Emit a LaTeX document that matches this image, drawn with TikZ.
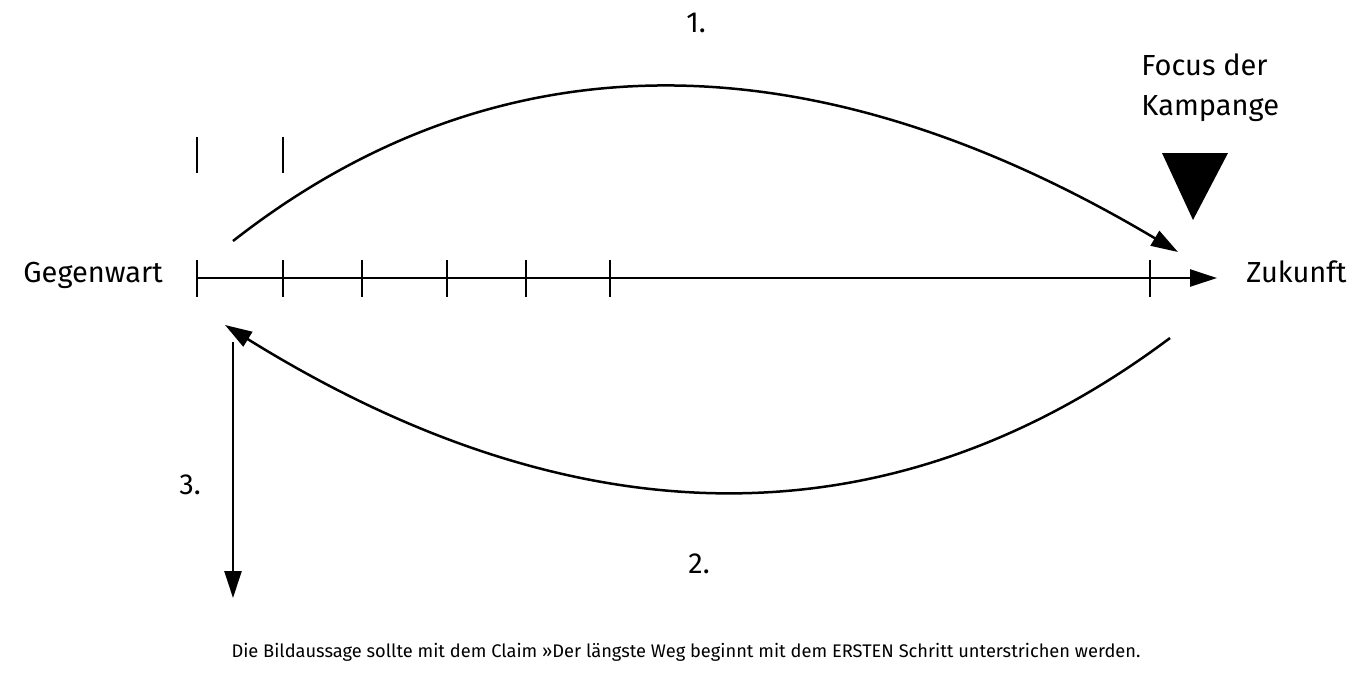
\documentclass[tikz,border=0pt]{standalone}
\usepackage{fontspec}
\setmainfont{Fira Sans}
\usetikzlibrary{arrows.meta}
\begin{document}
\begin{tikzpicture}[
  x=0.5pt, y=-0.5pt,
  line/.style={line width=1.25pt},
  arrow/.style={line width=1.25pt, -{Triangle[length=13.5pt,width=8.5pt]}},
  label/.style={font=\fontsize{14.5}{20}\selectfont, inner sep=0pt, align=left},
  caption/.style={font=\fontsize{9.13}{12}\selectfont, inner sep=0pt}
]
\useasboundingbox (0,0) rectangle (1371,676);
% time axis
\coordinate (tstart) at (197,278);
\coordinate (tend) at (1217,278);
\draw[arrow] (tstart) -- (tend);
\foreach \x in {197,283,362,447,526,610,1150}
  \draw[line] (\x,260) -- (\x,297);
\foreach \x in {197,283}
  \draw[line] (\x,137) -- (\x,173);
\node[label, anchor=base west] (now) at (23,282) {Gegenwart};
\node[label, anchor=base west] (future) at (1246,282) {Zukunft};
% focus marker
\node[label, anchor=base west] (focus) at (1141,115) {Focus der\\Kampange};
\fill (1162,153) -- (1228,153) -- (1193,220) -- cycle;
% arcs
\coordinate (a1s) at (233,241);
\coordinate (a1e) at (1178,252);
\coordinate (a2s) at (1170,338);
\coordinate (a2e) at (225,325);
\draw[arrow] (a1s) .. controls (500,32) and (815,36) .. (a1e);
\draw[arrow] (a2s) .. controls (891,547) and (576,543) .. (a2e);
\coordinate (v1s) at (233,342);
\coordinate (v1e) at (233,598);
\draw[arrow] (v1s) -- (v1e);
\node[label, anchor=base west] (step1) at (686,32) {1.};
\node[label, anchor=base west] (step2) at (688,573) {2.};
\node[label, anchor=base west] (step3) at (179,494) {3.};
\node[caption, anchor=base] (claim) at (686,657) {Die Bildaussage sollte mit dem Claim »Der längste Weg beginnt mit dem ERSTEN Schritt unterstrichen werden.};
\end{tikzpicture}
\end{document}
